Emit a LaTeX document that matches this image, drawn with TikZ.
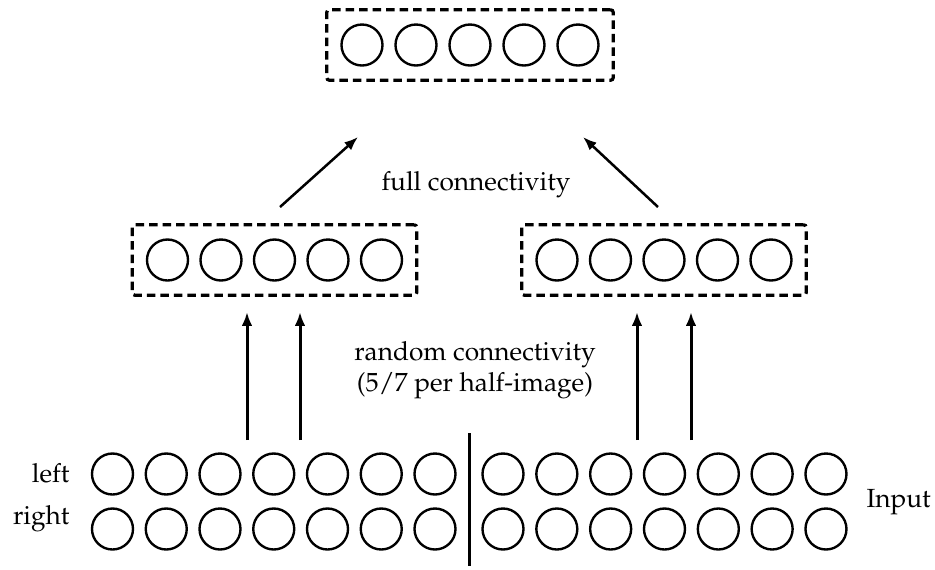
\documentclass[tikz,border=0pt]{standalone}
\usepackage[T1]{fontenc}
\usepackage{mathpazo}
\usetikzlibrary{fit,arrows.meta}

\tikzset{
  unit/.style={draw,circle,minimum size=16.4pt,inner sep=0pt,line width=.95pt},
  layer/.style={draw,line width=1.3pt,dash pattern=on 3.4pt off 2pt,
    inner sep=5.4pt,rounded corners=1pt},
  conn/.style={line width=1.2pt,-{Latex[length=5.5pt,width=4.2pt]}},
  lbl/.style={font=\fontsize{10.5}{12.5}\selectfont,align=center,inner sep=0pt}
}

\begin{document}
\begin{tikzpicture}[x=.4pt,y=-.4pt]
  \useasboundingbox (0,0) rectangle (935,569);
  % output layer
  \foreach \i in {1,...,5}
    \node[unit] (o\i) at ({362+54*(\i-1)},45) {};
  \node[layer,fit=(o1)(o5)] (out) {};
  % hidden layers, one per half
  \foreach \i in {1,...,5} {
    \node[unit] (hl\i) at ({167.5+53.5*(\i-1)},260) {};
    \node[unit] (hr\i) at ({557+53.5*(\i-1)},260) {};
  }
  \node[layer,fit=(hl1)(hl5)] (hidl) {};
  \node[layer,fit=(hr1)(hr5)] (hidr) {};
  % input, two rows per half
  \foreach \i in {1,...,7} {
    \node[unit] (al\i) at ({112.5+53.75*(\i-1)},474) {};
    \node[unit] (bl\i) at ({112.5+53.75*(\i-1)},529) {};
    \node[unit] (ar\i) at ({503+53.83*(\i-1)},474) {};
    \node[unit] (br\i) at ({503+53.83*(\i-1)},529) {};
  }
  \coordinate (d1) at (469,433); \coordinate (d2) at (469,566);
  \draw[line width=1.2pt] (d1) -- (d2);
  \node[lbl,anchor=base east] (left) at (70,482) {left};
  \node[lbl,anchor=base east] (right) at (70,524) {right};
  \node[lbl,anchor=base west] (inp) at (866,507) {Input};
  % random connections
  \foreach \x/\n in {247/1,300/2,637/3,691/4} {
    \coordinate (s\n) at (\x,440); \coordinate (e\n) at (\x,312);
    \draw[conn] (s\n) -- (e\n);
  }
  \node[lbl] (rnd) at (475,370) {random connectivity\\(5/7 per half-image)};
  % full connections
  \coordinate (fl) at (280,207); \coordinate (fr) at (658,207);
  \coordinate (tl) at (358,137); \coordinate (tr) at (583,137);
  \draw[conn,line width=1pt] (fl) -- (tl);
  \draw[conn,line width=1pt] (fr) -- (tr);
  \node[lbl] (full) at (476,185) {full connectivity};
\end{tikzpicture}
\end{document}
